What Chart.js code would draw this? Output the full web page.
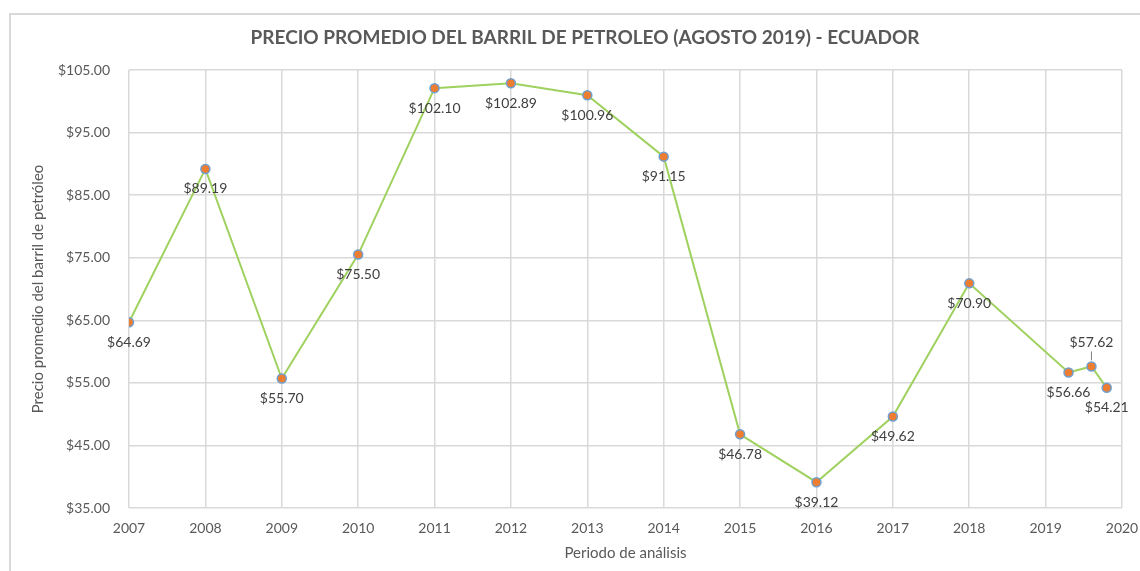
<!DOCTYPE html>
<html>
<head>
<meta charset="utf-8">
<script src="https://cdn.jsdelivr.net/npm/chart.js@4/dist/chart.umd.min.js"></script>
<style>
  html, body { margin: 0; padding: 0; background: #ffffff; }
  #wrap { width: 1140px; height: 571px; position: relative; }
</style>
</head>
<body>
<div id="wrap"><canvas id="c" width="1140" height="571"></canvas></div>
<script>
const chartTitle = "PRECIO PROMEDIO DEL BARRIL DE PETROLEO (AGOSTO 2019) - ECUADOR";
const yAxisTitle = "Precio promedio del barril de petróleo";
const xAxisTitle = "Periodo de análisis";
const years = [2007, 2008, 2009, 2010, 2011, 2012, 2013, 2014, 2015, 2016, 2017, 2018, 2019.3, 2019.6, 2019.8];
const prices = [64.69, 89.19, 55.70, 75.50, 102.10, 102.89, 100.96, 91.15, 46.78, 39.12, 49.62, 70.90, 56.66, 57.62, 54.21];
const yTicks = [35, 45, 55, 65, 75, 85, 95, 105];
const xTicks = [2007, 2008, 2009, 2010, 2011, 2012, 2013, 2014, 2015, 2016, 2017, 2018, 2019, 2020];
// label placement: 'below' or 'above' (with leader line)
const labelPlacement = ['below','below','below','below','below','below','below','below','below','below','below','below','below','above','below'];

const FONT = "Lato, 'Open Sans', sans-serif";
const money = v => '$' + v.toFixed(2);

const decorPlugin = {
  id: 'decor',
  beforeDraw(chart) {
    const ctx = chart.ctx;
    ctx.save();
    ctx.strokeStyle = '#d9d9d9';
    ctx.lineWidth = 2;
    ctx.beginPath();
    ctx.moveTo(10, 571);
    ctx.lineTo(10, 14);
    ctx.lineTo(1140, 14);
    ctx.stroke();
    ctx.restore();
  },
  afterDraw(chart) {
    const ctx = chart.ctx;
    const area = chart.chartArea;
    ctx.save();
    // title
    ctx.fillStyle = '#595959';
    ctx.font = "bold 19px " + FONT;
    ctx.textAlign = 'center';
    ctx.textBaseline = 'middle';
    ctx.fillText(chartTitle, 585, 38);
    // axis titles
    ctx.font = "15px " + FONT;
    ctx.fillText(xAxisTitle, (area.left + area.right) / 2, 553);
    ctx.translate(38, (area.top + area.bottom) / 2);
    ctx.rotate(-Math.PI / 2);
    ctx.fillText(yAxisTitle, 0, 0);
    ctx.restore();

    // data labels
    const meta = chart.getDatasetMeta(0);
    ctx.save();
    ctx.font = "14px " + FONT;
    ctx.fillStyle = '#404040';
    ctx.textAlign = 'center';
    ctx.textBaseline = 'middle';
    meta.data.forEach((pt, i) => {
      const txt = money(prices[i]);
      if (labelPlacement[i] === 'above') {
        ctx.fillText(txt, pt.x, pt.y - 24);
        ctx.strokeStyle = '#7f7f7f';
        ctx.lineWidth = 1;
        ctx.beginPath();
        ctx.moveTo(pt.x, pt.y - 15);
        ctx.lineTo(pt.x, pt.y - 6);
        ctx.stroke();
      } else {
        ctx.fillText(txt, pt.x, pt.y + 20);
      }
    });
    ctx.restore();
  }
};

new Chart(document.getElementById('c'), {
  type: 'line',
  data: {
    datasets: [{
      data: years.map((x, i) => ({ x: x, y: prices[i] })),
      borderColor: '#9fd15f',
      borderWidth: 2,
      pointRadius: 4.5,
      pointBorderWidth: 1.5,
      pointBackgroundColor: '#ed7d31',
      pointBorderColor: '#6f9fd0',
      tension: 0,
      fill: false
    }]
  },
  options: {
    responsive: false,
    animation: false,
    devicePixelRatio: 1,
    layout: { padding: { left: 0, right: 18, top: 70, bottom: 0 } },
    plugins: { legend: { display: false }, tooltip: { enabled: false }, title: { display: false } },
    scales: {
      x: {
        type: 'linear',
        min: 2007, max: 2020,
        afterBuildTicks: s => { s.ticks = xTicks.map(v => ({ value: v })); },
        afterFit: s => { s.height = 571 - 508; s.paddingLeft = 0; s.paddingRight = 0; },
        grid: { color: '#d9d9d9', lineWidth: 1.5, drawTicks: false },
        border: { display: false },
        ticks: { padding: 12, color: '#595959', font: { family: FONT, size: 14 }, callback: v => String(v), maxRotation: 0, autoSkip: false }
      },
      y: {
        min: 35, max: 105,
        afterBuildTicks: s => { s.ticks = yTicks.map(v => ({ value: v })); },
        afterFit: s => { s.width = 129; s.paddingTop = 0; s.paddingBottom = 0; },
        grid: { color: '#d9d9d9', lineWidth: 1.5, drawTicks: false },
        border: { display: false },
        ticks: { padding: 19, color: '#595959', font: { family: FONT, size: 14 }, callback: v => money(v) }
      }
    }
  },
  plugins: [decorPlugin]
});
</script>
</body>
</html>
